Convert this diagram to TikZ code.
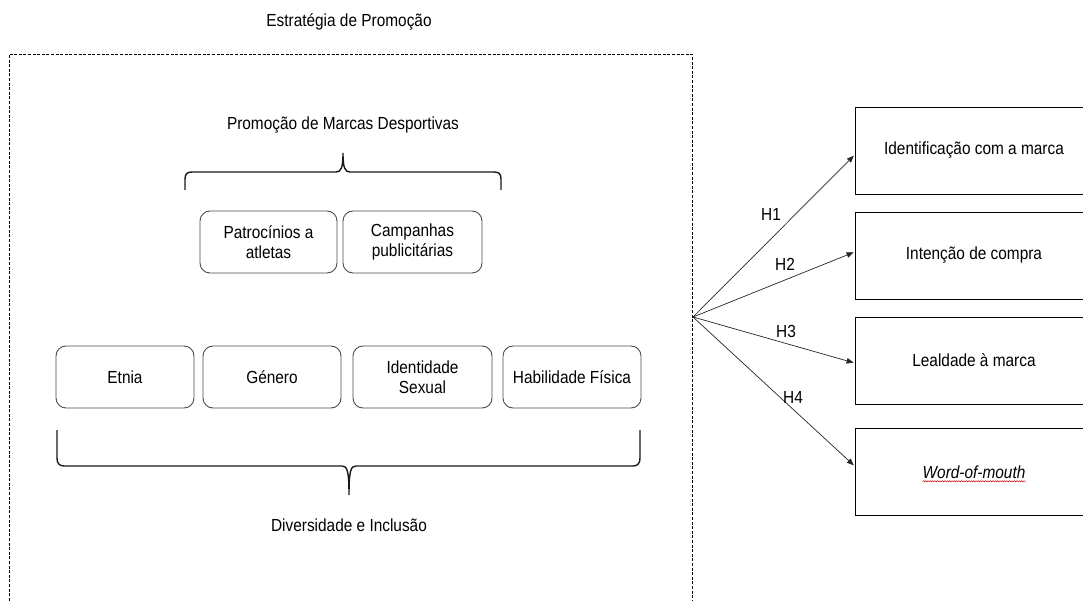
\documentclass[tikz,border=0pt]{standalone}
\usepackage{fontspec}
\setmainfont{Liberation Sans}[FakeStretch=0.88]
\usetikzlibrary{arrows.meta,decorations.pathmorphing}
\newcommand\lblfont{\fontsize{17.5}{20}\selectfont}
\newlength\wa \newlength\wb \newlength\wc
\begin{document}
\begin{tikzpicture}[x=1pt,y=-1pt,
  rbox/.style={draw=black!70, line width=0.9pt, rounded corners=10pt, minimum height=62pt, align=center, inner sep=0pt, font=\lblfont},
  obox/.style={draw=black, line width=0.9pt, minimum width=238pt, minimum height=87pt, inner sep=0pt, font=\lblfont},
  lbl/.style={font=\lblfont, inner sep=0pt},
  hyp/.style={-{Triangle[length=7pt,width=5.5pt]}, line width=0.7pt, draw=black!85, shorten >=1pt},
  bracepath/.style={line width=1.4pt, draw=black!90},
  frame/.style={line width=0.7pt, dash pattern=on 3pt off 1.6pt}
]
\useasboundingbox (0,0) rectangle (1083,601);
\clip (0,0) rectangle (1083,601);
\fill[white] (0,0) rectangle (1083,601);

% titles
\node[lbl] (title) at (349,22) {Estratégia de Promoção};
\draw[frame] (9,610) -- (9,54) -- (692,54) -- (692,610);

\node[lbl] (pmd) at (343,125) {Promoção de Marcas Desportivas};

% top brace
\draw[bracepath] (185,190) -- (185,179) .. controls (185,174) and (187,172) .. (192,172) -- (336,172)
  .. controls (341,172) and (343,168) .. (343,153) .. controls (343,168) and (345,172) .. (350,172)
  -- (494,172) .. controls (499,172) and (501,174) .. (501,179) -- (501,190);

\node[rbox, minimum width=137pt] (pat) at (268.5,242) {Patrocínios a\\atletas};
\node[rbox, minimum width=139pt] (cam) at (412.5,242) {Campanhas\\publicitárias};

\node[rbox, minimum width=138pt] (etn) at (125,377) {Etnia};
\node[rbox, minimum width=138pt] (gen) at (272,377) {Género};
\node[rbox, minimum width=139pt] (ids) at (422.5,377) {Identidade\\Sexual};
\node[rbox, minimum width=138pt] (hab) at (572,377) {Habilidade Física};

% bottom brace
\draw[bracepath] (57,430) -- (57,458) .. controls (57,463) and (59,466) .. (64,466) -- (342,466)
  .. controls (347,466) and (349,470) .. (349,495) .. controls (349,470) and (351,466) .. (356,466)
  -- (633,466) .. controls (638,466) and (640,463) .. (640,458) -- (640,430);

\node[lbl] (div) at (349,525) {Diversidade e Inclusão};

% outcome boxes
\node[obox] (r1) at (974,150.5) {Identificação com a marca};
\node[obox] (r2) at (974,255.5) {Intenção de compra};
\node[obox] (r3) at (974,360.5) {Lealdade à marca};
\node[obox] (r4) at (974,472) {};
\node[lbl, font=\lblfont\itshape] (w4) at (r4.center) {Word-of-mouth};
\settowidth{\wa}{\lblfont\itshape Word-}
\settowidth{\wb}{\lblfont\itshape Word-of}
\settowidth{\wc}{\lblfont\itshape Word-of-}
\draw[red!80!black, line width=0.5pt, decorate, decoration={snake, amplitude=0.6pt, segment length=2.4pt}]
  ([xshift=\wa, yshift=-3pt]w4.base west) -- ([xshift=\wb, yshift=-3pt]w4.base west);
\draw[red!80!black, line width=0.5pt, decorate, decoration={snake, amplitude=0.6pt, segment length=2.4pt}]
  ([xshift=\wc, yshift=-3pt]w4.base west) -- ([yshift=-3pt]w4.base east);

% fan
\coordinate (o) at (693,317);
\draw[hyp] (o) -- ([yshift=-4.5pt]r1.west);
\draw[hyp] (o) -- ([yshift=3.5pt]r2.west);
\draw[hyp] (o) -- ([yshift=-2.5pt]r3.west);
\draw[hyp] (o) -- ([yshift=6pt]r4.west);

\node[lbl] (h1) at (771,214) {H1};
\node[lbl] (h2) at (785,264) {H2};
\node[lbl] (h3) at (786,331) {H3};
\node[lbl] (h4) at (793,397) {H4};
\end{tikzpicture}
\end{document}
